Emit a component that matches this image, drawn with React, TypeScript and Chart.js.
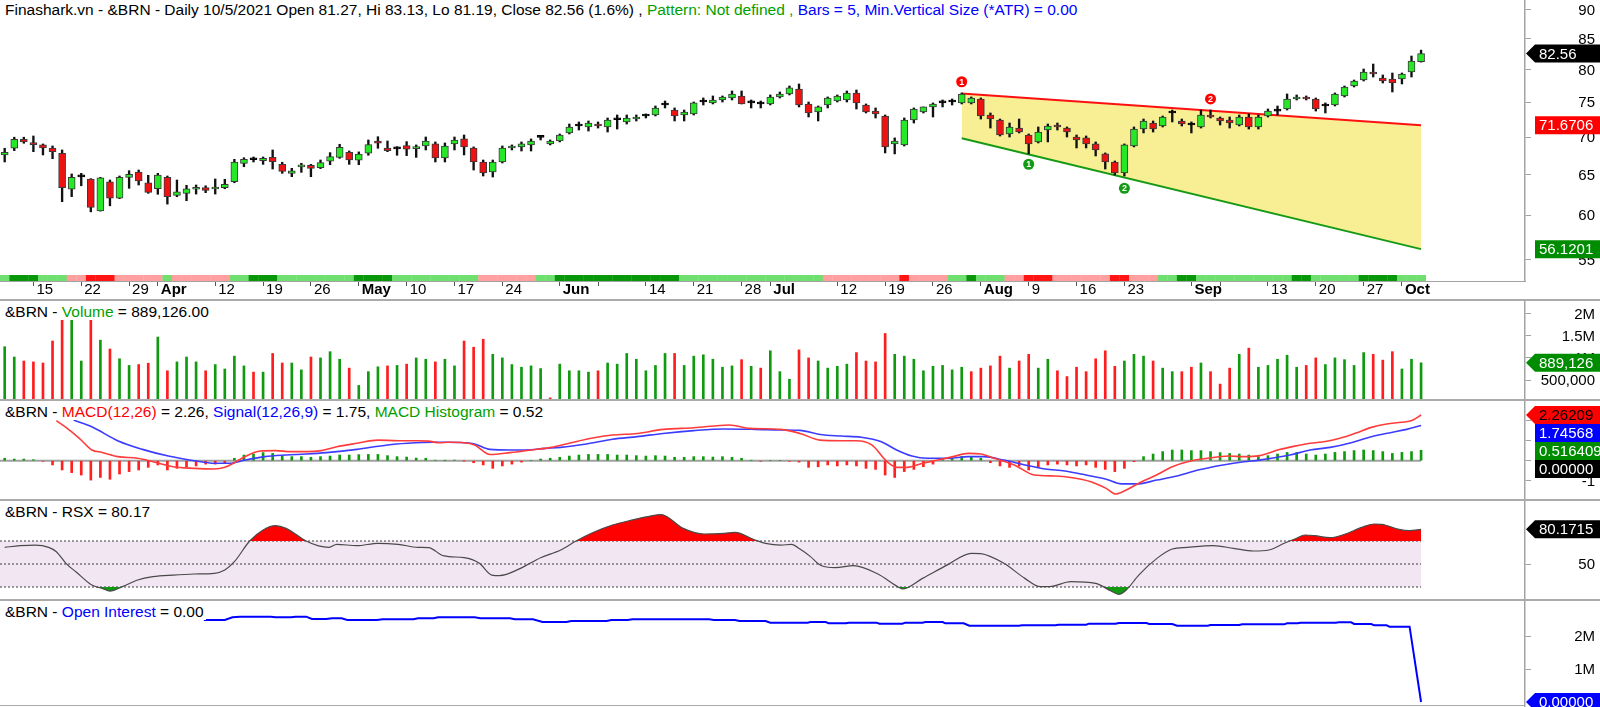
import React, { useEffect, useRef } from 'react';
import { Chart, registerables } from 'chart.js';

Chart.register(...registerables);

const FONT = '"Liberation Sans", Arial, Helvetica, sans-serif';

// ---------------- data ----------------
const dateTickIdx = [3, 8, 13, 16, 22, 27, 32, 37, 42, 47, 52, 58, 62, 67, 72, 77, 80, 87, 92, 97, 102, 107, 112, 117, 124, 127, 132, 137, 142, 146];
const dateTickText = ['15', '22', '29', 'Apr', '12', '19', '26', 'May', '10', '17', '24', 'Jun', '', '14', '21', '28', 'Jul', '12', '19', '26', 'Aug', '9', '16', '23', 'Sep', '', '13', '20', '27', 'Oct'];
const monthNames = ['Apr', 'May', 'Jun', 'Jul', 'Aug', 'Sep', 'Oct'];

const open = [67.59, 68.49, 69.72, 69.25, 68.94, 68.53, 67.82, 63.16, 64.72, 64.46, 60.53, 64.11, 62.05, 64.67, 65.35, 63.98, 63.23, 64.67, 62.41, 62.66,
  63.16, 63.36, 63.2, 63.36, 64.11, 66.48, 66.95, 66.83, 67.27, 66.35, 65.18, 66.01, 66.22, 65.92, 66.75, 67.27, 67.95, 66.9, 67.82, 69.48,
  68.53, 68.4, 68.84, 68.44, 68.8, 69.08, 67.19, 69.08, 69.76, 68.53, 66.66, 65.35, 66.66, 68.53, 68.67, 68.94, 69.97, 69.08, 69.48, 70.59,
  71.57, 71.43, 71.85, 71.43, 72.45, 72.14, 72.56, 73.0, 73.14, 74.6, 73.86, 73.14, 73.29, 75.04, 74.9, 75.34, 75.64, 75.94, 74.9, 74.75,
  74.75, 75.79, 76.24, 76.99, 74.75, 73.57, 74.6, 75.19, 75.34, 76.39, 74.6, 73.71, 72.99, 69.08, 68.94, 72.42, 73.57, 74.31, 74.9, 75.04,
  74.9, 74.9, 75.49, 73.14, 72.42, 70.45, 71.28, 70.31, 69.35, 71.0, 71.57, 71.28, 70.03, 69.9, 69.08, 67.73, 66.66, 65.22, 68.8, 71.14,
  71.99, 71.57, 73.43, 72.28, 71.71, 71.43, 73.14, 72.71, 72.42, 71.71, 72.85, 71.43, 73.0, 73.71, 74.01, 75.49, 75.79, 75.49, 74.45, 74.6,
  75.94, 77.45, 78.37, 79.62, 78.68, 78.53, 78.53, 79.62, 81.27];
const high = [68.49, 70.0, 70.0, 70.17, 69.07, 68.8, 68.26, 65.1, 65.18, 64.5, 64.67, 64.33, 64.84, 65.52, 65.61, 64.93, 65.18, 64.84, 64.33, 63.66,
  63.7, 63.6, 64.46, 64.42, 67.01, 67.22, 67.32, 67.32, 68.26, 66.62, 65.83, 66.49, 66.35, 66.92, 67.9, 69.03, 68.12, 68.0, 69.62, 70.07,
  69.48, 68.71, 69.39, 68.94, 70.03, 69.35, 69.21, 70.03, 70.31, 68.67, 66.92, 66.92, 68.8, 68.94, 69.35, 69.76, 70.17, 69.62, 70.45, 71.85,
  72.14, 72.28, 72.14, 72.71, 73.14, 73.14, 73.14, 73.29, 74.45, 75.19, 74.16, 73.86, 75.04, 75.64, 75.94, 75.94, 76.69, 76.69, 75.34, 75.19,
  76.09, 76.54, 77.45, 77.76, 75.04, 74.45, 75.79, 76.09, 76.69, 76.84, 74.75, 74.16, 73.14, 69.9, 72.71, 74.16, 74.31, 74.9, 75.34, 75.49,
  76.39, 75.79, 75.64, 73.43, 72.56, 71.99, 72.56, 70.45, 71.43, 71.85, 71.99, 71.43, 70.31, 70.17, 69.35, 67.86, 66.79, 69.08, 71.43, 72.56,
  72.28, 72.99, 73.86, 72.56, 72.14, 73.86, 73.86, 72.85, 72.85, 73.14, 73.29, 73.14, 74.01, 74.45, 76.24, 76.09, 75.94, 75.64, 74.9, 76.39,
  77.45, 78.37, 80.09, 80.88, 79.15, 79.46, 79.46, 82.17, 83.13];
const low = [66.66, 68.17, 69.17, 68.03, 67.59, 67.09, 61.63, 62.25, 63.6, 60.41, 60.5, 61.13, 62.0, 63.28, 63.7, 62.66, 62.54, 61.34, 62.25, 61.75,
  62.57, 62.74, 62.57, 63.23, 63.98, 66.04, 66.66, 66.35, 65.74, 65.18, 64.75, 65.31, 64.75, 65.79, 66.3, 67.14, 66.35, 66.3, 67.55, 68.49,
  68.03, 67.55, 67.5, 67.27, 68.26, 66.66, 66.66, 68.26, 67.59, 65.61, 64.84, 64.71, 66.53, 68.26, 68.12, 68.12, 69.62, 68.94, 69.35, 70.45,
  71.0, 70.86, 71.28, 70.72, 71.14, 71.85, 72.28, 72.71, 73.0, 74.16, 72.28, 72.28, 73.14, 74.6, 74.75, 75.04, 75.34, 74.75, 74.16, 74.16,
  74.6, 75.64, 76.09, 74.31, 72.85, 72.28, 74.16, 75.04, 75.04, 74.01, 73.43, 72.71, 67.86, 67.73, 68.8, 71.99, 73.43, 72.85, 74.31, 74.6,
  74.75, 74.75, 72.56, 71.28, 70.17, 70.03, 70.59, 67.73, 69.21, 69.35, 71.0, 70.03, 68.53, 68.53, 67.46, 65.74, 64.97, 64.84, 68.67, 70.59,
  70.72, 71.43, 72.14, 71.57, 70.59, 71.28, 72.71, 71.71, 71.28, 71.57, 71.14, 71.14, 72.85, 73.14, 73.86, 75.34, 75.34, 73.71, 73.43, 74.45,
  75.79, 77.3, 78.22, 78.84, 77.91, 76.54, 77.76, 78.84, 81.19];
const close = [67.95, 69.72, 69.35, 68.98, 68.53, 68.03, 63.36, 64.67, 64.72, 60.93, 64.59, 62.05, 64.67, 65.05, 64.2, 62.78, 64.97, 62.25, 62.84, 63.23,
  63.36, 63.03, 63.36, 63.79, 66.66, 67.01, 66.95, 67.14, 66.7, 65.44, 65.52, 66.22, 65.83, 66.57, 67.36, 68.62, 66.92, 67.72, 68.98, 69.17,
  68.17, 68.4, 68.38, 68.66, 69.48, 67.19, 68.8, 69.62, 68.67, 66.66, 65.22, 66.66, 68.53, 68.8, 69.08, 69.48, 69.97, 69.48, 70.31, 71.43,
  71.57, 71.99, 71.57, 72.42, 72.45, 72.71, 72.85, 73.0, 74.16, 74.6, 73.0, 73.57, 74.9, 75.04, 75.34, 75.79, 76.24, 74.75, 74.9, 74.75,
  75.79, 76.24, 77.15, 74.6, 73.43, 74.31, 75.64, 75.94, 76.39, 74.9, 73.57, 73.29, 68.67, 69.48, 72.42, 74.01, 74.31, 74.75, 74.9, 75.04,
  76.24, 75.64, 72.99, 72.56, 70.31, 71.43, 70.72, 69.08, 70.72, 71.57, 71.43, 70.72, 69.62, 69.08, 68.26, 66.66, 65.22, 68.94, 71.14, 72.28,
  71.14, 72.85, 73.43, 71.85, 71.71, 73.14, 72.85, 72.28, 71.99, 72.85, 71.43, 72.85, 73.71, 73.71, 75.49, 75.79, 75.49, 74.01, 74.45, 76.24,
  77.3, 78.22, 79.62, 79.3, 78.22, 77.91, 79.3, 81.36, 82.56];

const volume = [1252000, 1020000, 930000, 910000, 885000, 1380000, 1850000, 1850000, 930000, 1850000, 1400000, 1200000, 980000, 830000, 850000, 880000, 1470000, 710000, 910000, 1020000,
  910000, 710000, 850000, 750000, 1040000, 820000, 680000, 680000, 1100000, 885000, 885000, 730000, 1020000, 1000000, 1140000, 970000, 770000, 380000, 690000, 800000,
  820000, 830000, 860000, 1000000, 970000, 910000, 970000, 820000, 1380000, 1240000, 1420000, 1080000, 1000000, 850000, 790000, 820000, 760000, 100000, 860000, 710000,
  710000, 680000, 710000, 885000, 860000, 1100000, 970000, 710000, 830000, 1100000, 1100000, 830000, 1040000, 1070000, 970000, 790000, 820000, 960000, 810000, 770000,
  1160000, 690000, 520000, 1180000, 1000000, 930000, 770000, 810000, 860000, 1120000, 930000, 910000, 1550000, 1080000, 1040000, 970000, 710000, 810000, 830000, 730000,
  790000, 690000, 770000, 820000, 1040000, 770000, 930000, 1080000, 770000, 970000, 710000, 580000, 790000, 690000, 980000, 1160000, 810000, 930000, 1080000, 1040000,
  930000, 770000, 690000, 690000, 790000, 885000, 690000, 410000, 770000, 1080000, 1220000, 790000, 830000, 970000, 1060000, 790000, 830000, 1000000, 850000, 1000000,
  960000, 830000, 1120000, 1080000, 950000, 1140000, 750000, 970000, 889126];

// 2 = strong up, 1 = up, -1 = down, -2 = strong down
const trendState = [1, 2, 2, 2, 1, 1, 1, -1, -1, -2, -2, -2, -1, -1, -1, -1, -1, 1, -1, -1,
  -1, -1, -1, -1, 1, 1, 2, 2, 2, 1, 1, 1, 1, 1, 1, 1, 1, 2, 2, 2,
  2, 1, 1, 1, 1, 1, 1, 1, 1, 1, -1, -1, -1, -1, -1, -1, 1, 1, 2, 2,
  2, 2, 2, 2, 2, 2, 2, 2, 2, 2, 2, 1, 1, 1, 1, 1, 1, 1, 1, 1,
  1, 1, 1, 1, 1, 1, -1, -1, -1, -1, -1, -1, -1, -1, -2, -1, -1, -1, -1, 1,
  1, 2, 1, 1, 1, -1, -1, -2, -2, -2, -1, -1, -1, -1, -1, -1, -2, -2, -1, -1,
  -1, 1, 1, 2, 2, 1, 1, 1, 1, 1, 1, 1, 1, 1, 1, 2, 2, 1, 1, 1,
  1, 1, 2, 2, 2, 2, 1, 1, 1];

const channelX = [100, 148];
const channelUpper = [76.3, 71.6706];
const channelLower = [69.85, 56.1201];

const pivotIdx = [100, 126, 107, 117];
const pivotPrice = [78.1, 75.5, 66.36, 63.28];
const pivotLabel = ['1', '2', '1', '2'];
const pivotIsHigh = [true, true, false, false];

const macdX = [5.4, 6.4, 7.8, 9.1, 10.2, 11.8, 13.9, 15.5, 17.6, 19.8, 21.9, 23.0, 24.0, 25.1, 26.7, 28.3, 29.9, 31.5, 33.1, 34.7,
  36.8, 39.0, 41.1, 43.2, 44.3, 45.4, 46.4, 48.0, 49.1, 50.7, 52.8, 55.0, 57.1, 59.2, 61.3, 63.5, 66.1, 68.8, 72.0, 75.7,
  77.9, 81.1, 83.1, 85.2, 87.4, 89.0, 90.6, 92.2, 93.2, 94.3, 95.9, 97.5, 99.1, 100.7, 102.0, 103.4, 105.5, 107.6, 109.8, 111.4,
  113.5, 115.1, 116.1, 117.2, 118.8, 120.4, 122.0, 123.6, 125.7, 127.9, 129.5, 131.1, 133.2, 134.8, 136.4, 138.0, 139.6, 141.2, 142.8, 144.4,
  146.0, 147.1, 148.0];
const macdY = [1.98, 1.65, 1.11, 0.53, 0.41, 0.2, 0.12, -0.05, -0.3, -0.38, -0.41, -0.33, -0.1, 0.2, 0.48, 0.5, 0.45, 0.45, 0.5, 0.69,
  0.86, 1.02, 0.99, 0.99, 0.97, 0.89, 0.91, 0.89, 0.78, 0.31, 0.4, 0.53, 0.66, 0.89, 1.11, 1.27, 1.35, 1.55, 1.63, 1.77,
  1.6, 1.55, 1.35, 1.02, 0.99, 0.99, 0.78, -0.05, -0.33, -0.33, -0.13, 0.03, 0.2, 0.36, 0.33, 0.12, -0.21, -0.71, -0.76, -0.83,
  -1.04, -1.37, -1.65, -1.45, -1.04, -0.7, -0.3, -0.05, 0.12, 0.23, 0.2, 0.25, 0.55, 0.72, 0.86, 0.95, 1.12, 1.37, 1.65, 1.82,
  1.9, 2.0, 2.26209];
const signalX = [7.2, 9.1, 11.8, 14.4, 17.1, 19.8, 21.9, 23.5, 25.1, 27.2, 29.4, 31.5, 33.6, 36.8, 40.0, 42.1, 44.8, 46.4, 48.0, 49.1,
  50.7, 52.8, 54.4, 56.5, 58.1, 60.8, 63.5, 66.1, 68.8, 72.0, 75.2, 78.4, 81.1, 83.1, 85.2, 87.4, 89.5, 91.6, 93.2, 94.8,
  96.4, 98.6, 100.7, 102.3, 104.4, 106.6, 108.7, 110.8, 113.0, 115.1, 116.7, 118.3, 120.4, 122.5, 124.7, 127.3, 129.5, 131.1, 134.3, 136.4,
  138.5, 140.7, 142.8, 144.9, 146.5, 148.0];
const signalY = [2.01, 1.68, 0.99, 0.56, 0.23, 0.0, -0.13, -0.13, 0.03, 0.2, 0.28, 0.33, 0.4, 0.56, 0.78, 0.86, 0.91, 0.91, 0.89, 0.83,
  0.56, 0.53, 0.53, 0.61, 0.66, 0.83, 1.06, 1.19, 1.35, 1.49, 1.57, 1.55, 1.52, 1.5, 1.3, 1.22, 1.16, 0.94, 0.53, 0.23,
  0.12, 0.12, 0.2, 0.2, 0.03, -0.21, -0.41, -0.51, -0.71, -0.92, -1.15, -1.15, -0.96, -0.76, -0.46, -0.21, -0.05, 0.03, 0.28, 0.53,
  0.66, 0.89, 1.19, 1.4, 1.55, 1.74568];
const histogram = [0.12, 0.08, 0.08, 0.05, -0.03, -0.21, -0.46, -0.59, -0.71, -0.96, -0.83, -0.92, -0.66, -0.54, -0.46, -0.33, -0.21, -0.46, -0.38, -0.3,
  -0.26, -0.17, -0.17, -0.13, 0.12, 0.28, 0.33, 0.4, 0.36, 0.23, 0.2, 0.2, 0.17, 0.2, 0.23, 0.28, 0.28, 0.3, 0.31, 0.31,
  0.25, 0.2, 0.18, 0.13, 0.12, 0.02, 0.01, 0.03, -0.01, -0.1, -0.21, -0.38, -0.26, -0.17, -0.07, 0.0, 0.08, 0.12, 0.17, 0.23,
  0.28, 0.31, 0.31, 0.31, 0.28, 0.28, 0.25, 0.23, 0.25, 0.23, 0.17, 0.17, 0.2, 0.2, 0.18, 0.2, 0.17, 0.12, 0.02, -0.03,
  0.0, 0.0, -0.03, -0.07, -0.33, -0.3, -0.21, -0.26, -0.21, -0.26, -0.38, -0.43, -0.71, -0.83, -0.54, -0.43, -0.3, -0.17, 0.08, 0.12,
  0.2, 0.2, 0.12, -0.1, -0.26, -0.33, -0.26, -0.46, -0.33, -0.21, -0.17, -0.21, -0.26, -0.21, -0.33, -0.43, -0.54, -0.38, -0.05, 0.2,
  0.33, 0.45, 0.53, 0.53, 0.5, 0.5, 0.45, 0.4, 0.36, 0.33, 0.28, 0.2, 0.25, 0.33, 0.41, 0.41, 0.33, 0.28, 0.33, 0.41,
  0.45, 0.5, 0.53, 0.5, 0.45, 0.36, 0.41, 0.45, 0.516409];

const rsxX = [0, 1.6, 3.2, 4.6, 5.4, 6.4, 7.5, 9.1, 10.2, 11, 12.3, 13.9, 15.5, 17.6, 19.8, 21.9, 23, 24, 25.6, 27,
  28.3, 29.4, 31.5, 32.8, 33.9, 34.7, 36.8, 39, 41.1, 43.2, 44.3, 45.9, 48, 49.6, 50.9, 51.7, 53.9, 56, 58.1, 59.7,
  61.3, 63.5, 65.6, 67.2, 68.6, 70.9, 73.1, 75.2, 76.3, 78.4, 79.5, 81.1, 82.2, 83.1, 84.2, 85.2, 86.8, 88.7, 91.1, 93.5,
  93.8, 95.9, 98.6, 101, 102, 104.4, 106.6, 108.2, 109.2, 111.4, 114, 115.6, 116.4, 117.2, 118.5, 120.4, 122, 123.6, 126.3, 128.4,
  130.5, 132.1, 133.7, 134.8, 135.9, 136.9, 138.5, 140.1, 141.7, 143.1, 143.9, 145.7, 146.8, 148];
const rsxY = [64.5, 65.9, 66.5, 64.5, 60.7, 50.6, 42.8, 31.7, 28.8, 26.5, 30.3, 36.1, 39.0, 40.4, 41.3, 41.9, 44.8, 52.0, 70.0, 79.6,
  83.3, 81.0, 70.0, 65.7, 64.5, 67.1, 65.9, 68.0, 67.1, 64.5, 64.2, 57.0, 55.5, 50.6, 40.4, 39.9, 46.2, 55.5, 62.2, 70.0,
  76.7, 83.9, 88.3, 91.2, 93.0, 81.0, 76.1, 76.7, 77.5, 70.9, 68.0, 66.5, 67.0, 63.0, 56.4, 49.1, 46.8, 48.6, 41.9, 29.4,
  28.3, 37.5, 49.7, 59.3, 59.0, 50.6, 37.5, 30.3, 30.3, 34.6, 33.2, 26.5, 23.6, 27.4, 40.4, 54.9, 63.0, 64.5, 65.9, 63.6,
  61.3, 62.2, 68.0, 71.7, 75.2, 74.6, 72.9, 76.1, 81.6, 84.8, 84.5, 80.1, 79.0, 80.1715];

const oiX = [20.8, 23.0, 23.8, 24.6, 27.8, 28.3, 29.9, 30.4, 31.5, 32.1, 33.6, 34.2, 35.2, 35.8, 38.9, 39.5, 42.7, 43.2, 44.8, 45.3,
  49.1, 49.7, 52.8, 53.3, 55.2, 56.2, 58.7, 59.2, 62.9, 63.4, 65.1, 65.6, 73.6, 74.1, 76.3, 76.8, 79.5, 80.0, 83.9, 84.2,
  85.8, 86.1, 87.9, 88.2, 91.1, 91.4, 93.8, 94.1, 95.9, 96.2, 98.0, 98.3, 100.2, 100.8, 106.0, 106.3, 109.8, 110.1, 113.0, 113.3,
  116.1, 116.4, 119.3, 119.6, 122.0, 122.5, 125.7, 126.0, 129.0, 129.3, 133.7, 134.0, 135.1, 135.4, 139.1, 139.4, 140.7, 141.0, 142.8, 143.1,
  144.4, 144.7, 146.8, 148.0];
const oiY = [2485000, 2485000, 2566000, 2586000, 2586000, 2566000, 2566000, 2586000, 2586000, 2515000, 2515000, 2535000, 2535000, 2485000, 2485000, 2505000, 2505000, 2535000, 2535000, 2566000,
  2566000, 2535000, 2535000, 2505000, 2505000, 2424000, 2424000, 2455000, 2455000, 2485000, 2485000, 2505000, 2505000, 2485000, 2485000, 2455000, 2455000, 2404000, 2404000, 2424000,
  2424000, 2384000, 2384000, 2404000, 2404000, 2374000, 2374000, 2404000, 2404000, 2424000, 2424000, 2384000, 2384000, 2313000, 2313000, 2323000, 2323000, 2343000, 2343000, 2374000,
  2374000, 2394000, 2394000, 2364000, 2364000, 2313000, 2313000, 2333000, 2333000, 2354000, 2354000, 2384000, 2384000, 2404000, 2404000, 2414000, 2414000, 2364000, 2364000, 2323000,
  2323000, 2283000, 2283000, 0];

const priceTicks = [55, 60, 65, 70, 75, 80, 85, 90];
const volumeTicks = [500000, 1000000, 1500000, 2000000];
const macdTicks = [-1, 0, 1, 2];
const rsxTicks = [50];
const rsxLevels = [30, 50, 70];
const oiTicks = [1000000, 2000000];

// ---------------- layout / style ----------------
const W = 1600;
const PLOT_RIGHT = 1525;
const AXIS_W = 70;
const PAD_R = W - PLOT_RIGHT - AXIS_W;
const X_MIN = -0.49;
const X_MAX = 158.86;
const LAST = close.length - 1;
const AXIS_COLOR = '#a3a3a3';
const UP = 'rgb(38, 232, 38)';
const DOWN = 'rgb(238, 18, 18)';
const VOL_UP = '#109a10';
const VOL_DOWN = '#ff1c1c';
const TAG_GREEN = '#008c00';
const YELLOW = 'rgb(248, 238, 148)';
const BAND = 'rgb(243, 230, 243)';
const STRIP_COLORS: Record<number, string> = { 2: '#08960a', 1: '#6fdf6f', [-1]: '#ff9f9f', [-2]: '#ff1414' };

const PANELS = {
  price: { top: 0, h: 300, axisH: 19, min: 52.7, max: 91.78 },
  volume: { top: 300, h: 100, min: 51800, max: 2304000 },
  macd: { top: 400, h: 100, min: -1.946, max: 3.005 },
  rsx: { top: 500, h: 100, min: 18.7, max: 105.65 },
  oi: { top: 600, h: 107, min: -151500, max: 3091000 },
};

type Tag = { value: number; text: string; bg: string; fg: string; arrow: boolean };

const idxs = close.map((_, i) => i);
const pts = (xs: number[], ys: number[]) => xs.map((x, i) => ({ x, y: ys[i] }));
const fmtNum = (v: number) => v.toPrecision(6);
const fmtMil = (v: number) => (v >= 1000000 ? `${v / 1000000}M` : v.toLocaleString('en-US'));

function sidePlugin(fmt: (v: number) => string, tags: Tag[]) {
  return {
    id: 'sideLabels',
    afterDraw(chart: any) {
      const { ctx, chartArea } = chart;
      const y = chart.scales.y;
      ctx.save();
      ctx.font = `15px ${FONT}`;
      ctx.textBaseline = 'middle';
      ctx.textAlign = 'right';
      ctx.fillStyle = '#000';
      for (const t of y.ticks) {
        ctx.fillText(fmt(t.value), W - PAD_R, y.getPixelForValue(t.value) + 1);
      }
      const H = 18;
      const items = tags.map((t) => ({ ...t, py: y.getPixelForValue(t.value) })).sort((a, b) => a.py - b.py);
      let prev = -1e9;
      for (const t of items) {
        const cy = Math.max(t.py, prev + H);
        prev = cy;
        const x0 = chartArea.right;
        ctx.beginPath();
        if (t.arrow) {
          ctx.moveTo(x0 + 1, cy);
          ctx.lineTo(x0 + 10, cy - H / 2);
          ctx.lineTo(W + 2, cy - H / 2);
          ctx.lineTo(W + 2, cy + H / 2);
          ctx.lineTo(x0 + 10, cy + H / 2);
          ctx.closePath();
        } else {
          ctx.rect(x0 + 10, cy - H / 2, W - x0, H);
        }
        ctx.fillStyle = t.bg;
        ctx.fill();
        ctx.fillStyle = t.fg;
        ctx.textAlign = 'left';
        ctx.fillText(t.text, x0 + 14, cy + 1);
      }
      ctx.restore();
    },
  };
}

const pivotPlugin = {
  id: 'pivots',
  afterDatasetsDraw(chart: any) {
    const { ctx } = chart;
    const x = chart.scales.x;
    const y = chart.scales.y;
    ctx.save();
    pivotIdx.forEach((xi, k) => {
      const px = x.getPixelForValue(xi);
      const py = y.getPixelForValue(pivotPrice[k]);
      ctx.beginPath();
      ctx.arc(px, py, 5.5, 0, Math.PI * 2);
      ctx.fillStyle = pivotIsHigh[k] ? '#ff0000' : '#149a14';
      ctx.fill();
      ctx.fillStyle = '#fff';
      ctx.font = `bold 9px ${FONT}`;
      ctx.textAlign = 'center';
      ctx.textBaseline = 'middle';
      ctx.fillText(pivotLabel[k], px, py + 0.5);
    });
    ctx.restore();
  },
};

function yAxis(type: string, min: number, max: number, tickVals: number[]) {
  return {
    type,
    position: 'right',
    min,
    max,
    bounds: 'data',
    afterFit: (s: any) => {
      s.width = AXIS_W;
    },
    afterBuildTicks: (s: any) => {
      s.ticks = tickVals.map((v) => ({ value: v }));
    },
    border: { display: true, color: AXIS_COLOR, width: 1.5 },
    grid: { drawOnChartArea: false, drawTicks: true, tickLength: 6, color: AXIS_COLOR, lineWidth: 1 },
    ticks: { display: false },
  };
}

const hiddenX = { type: 'linear', min: X_MIN, max: X_MAX, display: false, offset: false, bounds: 'data', grid: { offset: false } };

function baseOptions(scales: any) {
  return {
    animation: false,
    responsive: false,
    maintainAspectRatio: false,
    devicePixelRatio: 1,
    events: [],
    layout: { padding: { left: 0, right: PAD_R, top: 0, bottom: 0 }, autoPadding: false },
    plugins: { legend: { display: false }, tooltip: { enabled: false }, title: { display: false } },
    scales,
  };
}

function priceConfig(): any {
  const bodyColors = idxs.map((i) => (close[i] > open[i] ? UP : close[i] < open[i] ? DOWN : '#000'));
  const bodyBorders = idxs.map((i) => (close[i] === open[i] ? '#000' : '#3a3a3a'));
  const P = PANELS.price;
  return {
    type: 'bar',
    data: {
      datasets: [
        {
          type: 'bar', data: idxs.map((i) => ({ x: i, y: [open[i], close[i]] })), backgroundColor: bodyColors,
          borderColor: bodyBorders, borderWidth: 1, borderSkipped: false, barThickness: 7, minBarLength: 2,
          grouped: false, order: 1, yAxisID: 'y',
        },
        {
          type: 'bar', data: idxs.map((i) => ({ x: i, y: [low[i], high[i]] })), backgroundColor: '#111',
          borderWidth: 0, barThickness: 1.7, grouped: false, order: 2, yAxisID: 'y',
        },
        {
          type: 'line', data: pts(channelX, channelUpper), borderColor: '#ff1010', borderWidth: 2, pointRadius: 0,
          fill: false, order: 4, yAxisID: 'y',
        },
        {
          type: 'line', data: pts(channelX, channelLower), borderColor: '#169a16', borderWidth: 2, pointRadius: 0,
          fill: '-1', backgroundColor: YELLOW, order: 5, yAxisID: 'y',
        },
        {
          type: 'bar', data: idxs.map((i) => ({ x: i, y: [0, 1] })), backgroundColor: idxs.map((i) => STRIP_COLORS[trendState[i]]),
          borderWidth: 0, barPercentage: 1.03, categoryPercentage: 1, grouped: false, order: 6, yAxisID: 'ys',
        },
      ],
    },
    options: baseOptions({
      x: {
        type: 'linear', min: X_MIN, max: X_MAX, position: 'bottom', offset: false, bounds: 'data',
        afterFit: (s: any) => {
          s.height = P.axisH;
        },
        afterBuildTicks: (s: any) => {
          s.ticks = dateTickIdx.map((v) => ({ value: v }));
        },
        border: { display: true, color: AXIS_COLOR, width: 1 },
        grid: { drawOnChartArea: false, drawTicks: true, tickLength: 5, color: '#555', offset: false },
        ticks: {
          autoSkip: false, maxRotation: 0, minRotation: 0, align: 'start', padding: -5, labelOffset: 3, color: '#000',
          font: (c: any) => ({ family: FONT, size: 15, weight: monthNames.includes(dateTickText[c.index]) ? 'bold' : 'normal' }),
          callback: (_v: any, i: number) => dateTickText[i],
        },
      },
      y: yAxis('logarithmic', P.min, P.max, priceTicks),
      ys: { type: 'linear', min: 0, max: (P.h - P.axisH) / 6, display: false },
    }),
    plugins: [
      pivotPlugin,
      sidePlugin((v) => String(v), [
        { value: close[LAST], text: close[LAST].toFixed(2), bg: '#000', fg: '#fff', arrow: true },
        { value: channelUpper[1], text: fmtNum(channelUpper[1]), bg: '#ff0000', fg: '#fff', arrow: false },
        { value: channelLower[1], text: fmtNum(channelLower[1]), bg: TAG_GREEN, fg: '#fff', arrow: false },
      ]),
    ],
  };
}

function volumeConfig(): any {
  const P = PANELS.volume;
  const colors = idxs.map((i) => (i === 0 || close[i] >= close[i - 1] ? VOL_UP : VOL_DOWN));
  return {
    type: 'bar',
    data: {
      datasets: [{ data: idxs.map((i) => ({ x: i, y: volume[i] })), backgroundColor: colors, barThickness: 2, borderWidth: 0 }],
    },
    options: baseOptions({ x: hiddenX, y: yAxis('linear', P.min, P.max, volumeTicks) }),
    plugins: [
      sidePlugin(fmtMil, [{ value: volume[LAST], text: volume[LAST].toLocaleString('en-US'), bg: TAG_GREEN, fg: '#fff', arrow: true }]),
    ],
  };
}

function macdConfig(): any {
  const P = PANELS.macd;
  return {
    type: 'bar',
    data: {
      datasets: [
        {
          type: 'line', data: [{ x: X_MIN, y: 0 }, { x: LAST, y: 0 }], borderColor: '#a0a0a0', borderWidth: 2,
          pointRadius: 0, fill: false, order: 5,
        },
        {
          type: 'bar', data: idxs.map((i) => ({ x: i, y: histogram[i] })),
          backgroundColor: idxs.map((i) => (histogram[i] >= 0 ? '#119911' : '#ff2020')), barThickness: 2, borderWidth: 0, order: 4,
        },
        {
          type: 'line', data: pts(signalX, signalY), borderColor: 'rgb(60, 60, 255)', borderWidth: 1.6, pointRadius: 0,
          fill: false, cubicInterpolationMode: 'monotone', order: 2,
        },
        {
          type: 'line', data: pts(macdX, macdY), borderColor: 'rgb(255, 60, 60)', borderWidth: 1.6, pointRadius: 0,
          fill: false, cubicInterpolationMode: 'monotone', order: 1,
        },
      ],
    },
    options: baseOptions({ x: hiddenX, y: yAxis('linear', P.min, P.max, macdTicks) }),
    plugins: [
      sidePlugin((v) => String(v), [
        { value: macdY[macdY.length - 1], text: fmtNum(macdY[macdY.length - 1]), bg: '#ff0000', fg: '#000', arrow: true },
        { value: signalY[signalY.length - 1], text: fmtNum(signalY[signalY.length - 1]), bg: '#0000ff', fg: '#fff', arrow: false },
        { value: histogram[LAST], text: fmtNum(histogram[LAST]), bg: TAG_GREEN, fg: '#fff', arrow: false },
        { value: 0, text: fmtNum(0), bg: '#000', fg: '#fff', arrow: false },
      ]),
    ],
  };
}

function rsxConfig(): any {
  const P = PANELS.rsx;
  const rsxPts = pts(rsxX, rsxY);
  return {
    type: 'line',
    data: {
      datasets: [
        {
          data: [{ x: X_MIN, y: rsxLevels[2] }, { x: LAST, y: rsxLevels[2] }], borderWidth: 0, borderColor: 'rgba(0,0,0,0)',
          pointRadius: 0, fill: { target: { value: rsxLevels[0] }, above: BAND, below: BAND }, order: 9,
        },
        ...rsxLevels.map((l) => ({
          data: [{ x: X_MIN, y: l }, { x: LAST, y: l }], borderColor: '#3c3c3c', borderWidth: 1, borderDash: [2, 2],
          pointRadius: 0, fill: false, order: 8,
        })),
        {
          data: rsxPts, borderWidth: 0, borderColor: 'rgba(0,0,0,0)', pointRadius: 0, cubicInterpolationMode: 'monotone',
          fill: { target: { value: rsxLevels[2] }, above: '#ff0000', below: 'rgba(0,0,0,0)' }, order: 7,
        },
        {
          data: rsxPts, borderWidth: 0, borderColor: 'rgba(0,0,0,0)', pointRadius: 0, cubicInterpolationMode: 'monotone',
          fill: { target: { value: rsxLevels[0] }, above: 'rgba(0,0,0,0)', below: '#119911' }, order: 7,
        },
        {
          data: rsxPts, borderColor: '#4a4a4a', borderWidth: 1.2, pointRadius: 0, cubicInterpolationMode: 'monotone',
          fill: false, order: 1,
        },
      ],
    },
    options: baseOptions({ x: hiddenX, y: yAxis('linear', P.min, P.max, rsxTicks) }),
    plugins: [
      sidePlugin((v) => String(v), [
        { value: rsxY[rsxY.length - 1], text: fmtNum(rsxY[rsxY.length - 1]), bg: '#000', fg: '#fff', arrow: true },
      ]),
    ],
  };
}

function oiConfig(): any {
  const P = PANELS.oi;
  return {
    type: 'line',
    data: {
      datasets: [{ data: pts(oiX, oiY), borderColor: '#0000ff', borderWidth: 2, pointRadius: 0, fill: false }],
    },
    options: baseOptions({ x: hiddenX, y: yAxis('linear', P.min, P.max, oiTicks) }),
    plugins: [
      sidePlugin(fmtMil, [{ value: oiY[oiY.length - 1], text: fmtNum(oiY[oiY.length - 1]), bg: '#0000ff', fg: '#fff', arrow: true }]),
    ],
  };
}

const titleStyle = (top: number): React.CSSProperties => ({
  position: 'absolute', left: 4, top, font: `15.5px ${FONT}`, lineHeight: '17px', background: '#fff',
  padding: '0 2px 0 1px', whiteSpace: 'nowrap', color: '#000',
});

const sepStyle = (top: number): React.CSSProperties => ({
  position: 'absolute', left: 0, top, width: W, height: 2, background: '#ababab',
});

export default function App() {
  const r1 = useRef<HTMLCanvasElement>(null);
  const r2 = useRef<HTMLCanvasElement>(null);
  const r3 = useRef<HTMLCanvasElement>(null);
  const r4 = useRef<HTMLCanvasElement>(null);
  const r5 = useRef<HTMLCanvasElement>(null);

  useEffect(() => {
    Chart.defaults.font.family = FONT;
    const charts = [
      new Chart(r1.current as HTMLCanvasElement, priceConfig()),
      new Chart(r2.current as HTMLCanvasElement, volumeConfig()),
      new Chart(r3.current as HTMLCanvasElement, macdConfig()),
      new Chart(r4.current as HTMLCanvasElement, rsxConfig()),
      new Chart(r5.current as HTMLCanvasElement, oiConfig()),
    ];
    return () => charts.forEach((c) => c.destroy());
  }, []);

  const canvasStyle = (top: number, h: number): React.CSSProperties => ({
    position: 'absolute', left: 0, top, width: W, height: h, display: 'block',
  });

  return (
    <div style={{ position: 'absolute', left: 0, top: 0, width: W, height: 707, overflow: 'hidden', background: '#fff' }}>
      <canvas ref={r1} width={W} height={PANELS.price.h} style={canvasStyle(PANELS.price.top, PANELS.price.h)} />
      <canvas ref={r2} width={W} height={PANELS.volume.h} style={canvasStyle(PANELS.volume.top, PANELS.volume.h)} />
      <canvas ref={r3} width={W} height={PANELS.macd.h} style={canvasStyle(PANELS.macd.top, PANELS.macd.h)} />
      <canvas ref={r4} width={W} height={PANELS.rsx.h} style={canvasStyle(PANELS.rsx.top, PANELS.rsx.h)} />
      <canvas ref={r5} width={W} height={PANELS.oi.h} style={canvasStyle(PANELS.oi.top, PANELS.oi.h)} />

      <div style={sepStyle(299)} />
      <div style={sepStyle(399)} />
      <div style={sepStyle(499)} />
      <div style={sepStyle(599)} />
      <div style={{ position: 'absolute', left: 0, top: 705, width: PLOT_RIGHT, height: 1, background: '#ababab' }} />

      <div style={titleStyle(1)}>
        <span>{'Finashark.vn - &BRN - Daily 10/5/2021 Open 81.27, Hi 83.13, Lo 81.19, Close 82.56 (1.6%) , '}</span>
        <span style={{ color: '#00a000' }}>{'Pattern: Not defined , '}</span>
        <span style={{ color: '#0000ff' }}>{'Bars = 5, Min.Vertical Size (*ATR) = 0.00'}</span>
      </div>
      <div style={titleStyle(303)}>
        <span>{'&BRN - '}</span>
        <span style={{ color: '#00a000' }}>Volume</span>
        <span>{' = 889,126.00'}</span>
      </div>
      <div style={titleStyle(403)}>
        <span>{'&BRN - '}</span>
        <span style={{ color: '#ff0000' }}>{'MACD(12,26)'}</span>
        <span>{' = 2.26, '}</span>
        <span style={{ color: '#0000ff' }}>{'Signal(12,26,9)'}</span>
        <span>{' = 1.75, '}</span>
        <span style={{ color: '#00a000' }}>{'MACD Histogram'}</span>
        <span>{' = 0.52'}</span>
      </div>
      <div style={titleStyle(503)}>
        <span>{'&BRN - RSX = 80.17'}</span>
      </div>
      <div style={titleStyle(603)}>
        <span>{'&BRN - '}</span>
        <span style={{ color: '#0000ff' }}>{'Open Interest'}</span>
        <span>{' = 0.00'}</span>
      </div>
    </div>
  );
}
